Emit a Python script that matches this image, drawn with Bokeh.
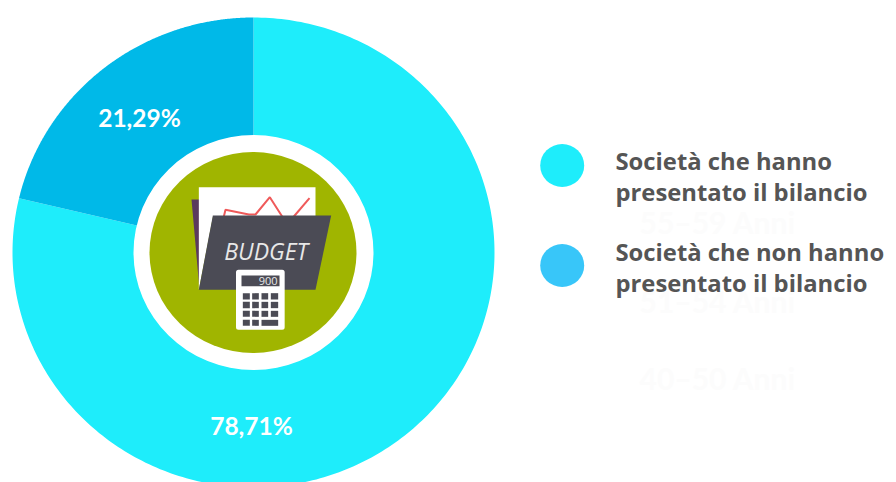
import numpy as np
from bokeh.plotting import figure
from bokeh.models import Range1d
from bokeh.core.properties import value
from bokeh.embed import file_html
from bokeh.resources import INLINE

shares = [78.71, 21.29]
share_labels = ["78,71%", "21,29%"]
legend_lines = [["Società che hanno", "presentato il bilancio"],
                ["Società che  non hanno", "presentato il bilancio"]]
ghost_labels = ["55–59 Anni", "51–54 Anni", "40–50 Anni"]

CYAN, BLUE, LEG2, GREEN, GREY = "#1eedfb", "#00b9e8", "#38c6f9", "#a0b500", "#555555"
cx, cy, rx, ry = 253, 252, 241, 235

p = figure(width=896, height=482, output_backend="svg", toolbar_location=None,
           x_range=Range1d(0, 896), y_range=Range1d(482, 0), min_border=0)
p.axis.visible = False
p.grid.visible = False
p.outline_line_color = None

# donut slices
start = 0.0
for share, col in zip(shares, [CYAN, BLUE]):
    t = np.radians(np.linspace(start, start + share * 3.6, 300))
    xs = np.r_[cx, cx + rx * np.sin(t)]
    ys = np.r_[cy, cy - ry * np.cos(t)]
    p.patch(xs, ys, fill_color=col, line_color=None)
    start += share * 3.6

p.ellipse([cx], [cy], width=240, height=235, fill_color="white", line_color=None)
p.ellipse([cx - 0.5], [cy], width=207, height=201, fill_color=GREEN, line_color=None)

# icon, drawn in zoomed pixel units
def X(v): return [130 + a / 3 for a in v]
def poly(xs, ys, col):
    p.patch(X(xs), X(ys), fill_color=col, line_color=None)

poly([183, 207, 207], [207, 207, 478], "#5b3a5e")
poly([205, 555, 555, 247, 205], [170, 170, 260, 260, 478], "white")
p.line(X([280, 285, 355, 375, 418, 455]), X([258, 238, 252, 252, 200, 258]), line_color="#ef5a5a", line_width=2)
p.line(X([490, 537]), X([258, 203]), line_color="#ef5a5a", line_width=2)
poly([247, 602, 555, 205], [255, 255, 478, 478], "#4b4b55")
p.text([130 + 407 / 3], [130 + 361 / 3], text=["BUDGET"], text_font=value("Open Sans"), text_font_style="italic",
       text_font_size="23px", text_color="#e8e8e8", text_align="center", text_baseline="middle")
# calculator
p.quad(left=X([324]), right=X([455]), top=X([425]), bottom=X([590]), fill_color="white",
       line_color="white", line_width=5, line_join="round")
p.quad(left=X([333]), right=X([447]), top=X([435]), bottom=X([467]), fill_color="#4b4b55", line_color=None)
p.text([130 + 441 / 3], [130 + 452 / 3], text=["900"], text_font=value("Open Sans"), text_font_size="11px",
       text_color="#e8e8e8", text_align="right", text_baseline="middle")
cols = [(337, 358), (365, 385), (393, 413), (421, 443)]
rows = [(488, 507), (514, 533), (541, 559), (568, 586)]
for i, (t0, b0) in enumerate(rows):
    use = cols if i < 3 else cols[:2] + [(393, 443)]
    for l, r in use:
        p.quad(left=X([l]), right=X([r]), top=X([t0]), bottom=X([b0]), fill_color="#4b4b55", line_color=None)

# value labels
for lab, x, y in zip(share_labels, [251, 139], [425, 117]):
    p.text([x], [y], text=[lab], text_font=value("Lato"), text_font_style="bold", text_font_size="24.5px",
           text_color="white", text_align="center", text_baseline="middle")

# faint leftover labels
for lab, y in zip(ghost_labels, [221, 300, 377]):
    p.text([639], [y], text=[lab], text_font=value("Lato"), text_font_style="bold", text_font_size="30px",
           text_color="#fcfcfc", text_align="left", text_baseline="middle")

# legend
for col, y, ty, lines in zip([CYAN, LEG2], [165, 265], [160, 251], legend_lines):
    p.ellipse([561.7], [y], width=44, height=43, fill_color=col, line_color=None)
    for k, ln in enumerate(lines):
        p.text([615], [ty + k * 31], text=[ln], text_font=value("Open Sans"), text_font_style="bold",
               text_font_size="23.8px", text_color=GREY, text_align="left", text_baseline="middle")

open("out.html", "w").write(file_html(p, INLINE))
